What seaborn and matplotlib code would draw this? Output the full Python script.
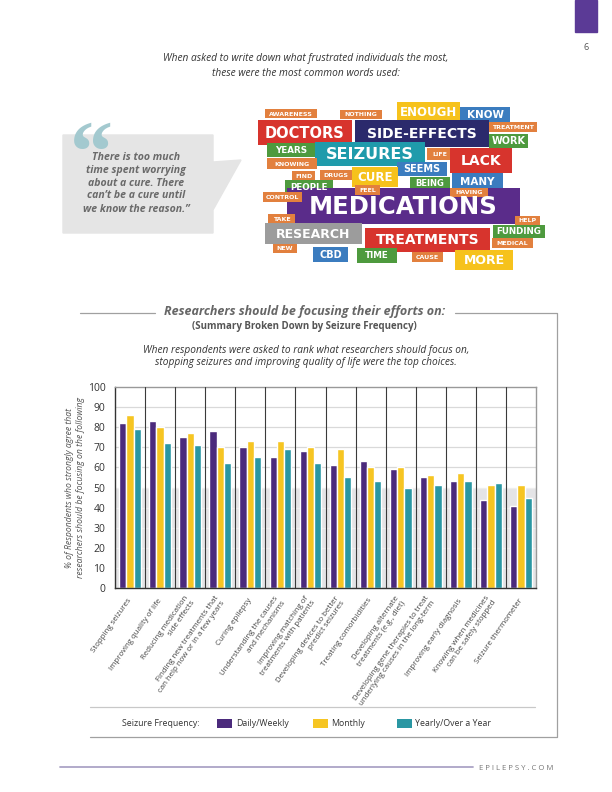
import numpy as np
import pandas as pd
import matplotlib
matplotlib.use("Agg")
import matplotlib.pyplot as plt
from matplotlib.patches import Rectangle, Polygon
import seaborn as sns

# chart data
focus = ["Stopping seizures", "Improving quality of life",
         "Reducing medication\nside effects",
         "Finding new treatments that\ncan help now or in a few years",
         "Curing epilepsy", "Understanding the causes\nand mechanisms",
         "Improving matching of\ntreatments with patients",
         "Developing devices to better\npredict seizures",
         "Treating comorbidities",
         "Developing alternate\ntreatments (e.g., diet)",
         "Developing gene therapies to treat\nunderlying causes in the long-term",
         "Improving early diagnosis",
         "Knowing when medicines\ncan be safely stopped",
         "Seizure thermometer"]
daily = [82, 83, 75, 78, 70, 65, 68, 61, 63, 59, 55, 53, 44, 41]
monthly = [86, 80, 77, 70, 73, 73, 70, 69, 60, 60, 56, 57, 51, 51]
yearly = [79, 72, 71, 62, 65, 69, 62, 55, 53, 50, 51, 53, 52, 45]
freq_names = ["Daily/Weekly", "Monthly", "Yearly/Over a Year"]
freq_colors = ["#4b2a7c", "#f6c522", "#2a97a3"]
yticks = list(range(0, 101, 10))

# word cloud: word, box (x0, y0, x1, y1) in page pixels, colour, font size
ORANGE, RED, NAVY, TEAL = "#e2803e", "#d7342d", "#2b2a6c", "#1f9bab"
BLUE, GREEN, YELLOW, PURPLE, GREY = "#3b7cbf", "#4e9a3e", "#f6c21c", "#5a2c8a", "#9c9c9c"
words = [
    ("AWARENESS", (265, 109, 317, 118), ORANGE, 4.5),
    ("NOTHING", (340, 110, 382, 119), ORANGE, 4.5),
    ("ENOUGH", (397, 102, 460, 121), YELLOW, 8.5),
    ("KNOW", (460, 107, 510, 123), BLUE, 7.5),
    ("TREATMENT", (489, 122, 537, 132), ORANGE, 4.5),
    ("DOCTORS", (258, 120, 352, 145), RED, 10.5),
    ("SIDE-EFFECTS", (355, 120, 489, 147), NAVY, 10),
    ("WORK", (489, 134, 528, 148), GREEN, 7),
    ("YEARS", (267, 143, 316, 157), GREEN, 6.3),
    ("SEIZURES", (315, 142, 425, 166), TEAL, 11.5),
    ("LIFE", (427, 148, 452, 160), ORANGE, 4.5),
    ("LACK", (450, 148, 512, 173), RED, 10),
    ("KNOWING", (267, 158, 317, 169), ORANGE, 4.5),
    ("SEEMS", (397, 162, 447, 176), BLUE, 7),
    ("FIND", (292, 171, 315, 181), ORANGE, 4.5),
    ("DRUGS", (320, 170, 352, 180), ORANGE, 4.5),
    ("CURE", (352, 167, 398, 187), YELLOW, 8.5),
    ("MANY", (452, 173, 503, 190), BLUE, 7.5),
    ("BEING", (410, 177, 450, 190), GREEN, 6),
    ("PEOPLE", (285, 180, 333, 195), GREEN, 6.3),
    ("MEDICATIONS", (287, 188, 520, 224), PURPLE, 17.5),
    ("FEEL", (355, 185, 380, 195), ORANGE, 4.5),
    ("HAVING", (450, 188, 488, 197), ORANGE, 4.5),
    ("CONTROL", (263, 192, 302, 202), ORANGE, 4.5),
    ("TAKE", (268, 214, 295, 224), ORANGE, 4.5),
    ("HELP", (515, 216, 540, 225), ORANGE, 4.5),
    ("RESEARCH", (265, 223, 362, 244), GREY, 9),
    ("TREATMENTS", (365, 228, 490, 252), RED, 10),
    ("FUNDING", (493, 225, 545, 238), GREEN, 6.3),
    ("MEDICAL", (492, 238, 533, 248), ORANGE, 4.5),
    ("NEW", (273, 244, 297, 253), ORANGE, 4.5),
    ("CBD", (313, 247, 348, 262), BLUE, 7),
    ("TIME", (357, 248, 397, 263), GREEN, 6.3),
    ("CAUSE", (412, 252, 443, 262), ORANGE, 4.5),
    ("MORE", (455, 250, 513, 270), YELLOW, 9),
]

sns.set_style("white")
plt.rcParams["font.family"] = ["Open Sans", "DejaVu Sans"]

fig = plt.figure(figsize=(6.12, 7.92), dpi=100)

# page overlay in pixel units
ov = fig.add_axes([0, 0, 1, 1], zorder=0)
ov.set_xlim(0, 612)
ov.set_ylim(792, 0)
ov.axis("off")

ov.add_patch(Rectangle((575, 0), 22, 32, color="#5b3a96"))
ov.text(586, 48, "6", ha="center", va="center", fontsize=6.5, color="#555")

ov.text(306, 59, "When asked to write down what frustrated individuals the most,",
        ha="center", va="center", fontsize=7.3, style="italic", color="#333")
ov.text(306, 73, "these were the most common words used:",
        ha="center", va="center", fontsize=7.3, style="italic", color="#333")

# quote bubble
ov.add_patch(Polygon([(63, 135), (213, 135), (213, 162), (241, 160), (213, 210),
                      (213, 233), (63, 233)], closed=True, color="#e5e5e5"))
ov.text(70, 121, "\u201c", fontsize=62, fontweight="bold", color="#a3c9cf",
        ha="left", va="top", family="Liberation Serif")
quote = ["There is too much", "time spent worrying", "about a cure. There",
         "can\u2019t be a cure until", "we know the reason.\u201d"]
for i, line in enumerate(quote):
    ov.text(136, 157 + i * 13, line, ha="center", va="center", fontsize=7.6,
            style="italic", fontweight="bold", color="#6a6a6a", zorder=3)

# word cloud
for w, (x0, y0, x1, y1), c, fs in words:
    ov.add_patch(Rectangle((x0, y0), x1 - x0, y1 - y0, color=c, lw=0))
    ov.text((x0 + x1) / 2, (y0 + y1) / 2 + 0.5, w, ha="center", va="center",
            fontsize=fs, fontweight="bold", color="white", family="DejaVu Sans")

# panel frame and headings
lc = "#a0a0a0"
ov.plot([80, 155], [313, 313], color=lc, lw=0.9)
ov.plot([455, 557, 557, 90], [313, 313, 737, 737], color=lc, lw=0.9)
ov.plot([90, 535], [707, 707], color="#c8c8c8", lw=0.9)
ov.text(305, 312, "Researchers should be focusing their efforts on:", ha="center",
        va="center", fontsize=9, style="italic", fontweight="bold", color="#666")
ov.text(304, 327, "(Summary Broken Down by Seizure Frequency)", ha="center",
        va="center", fontsize=7, fontweight="bold", color="#555")
ov.text(306, 350, "When respondents were asked to rank what researchers should focus on,",
        ha="center", va="center", fontsize=7.3, style="italic", color="#333")
ov.text(306, 363, "stopping seizures and improving quality of life were the top choices.",
        ha="center", va="center", fontsize=7.3, style="italic", color="#333")

# legend
ov.text(122, 723, "Seizure Frequency:", ha="left", va="center", fontsize=6.3, color="#333")
for (bx, tx), name, col in zip([(217, 236), (313, 331), (397, 415)], freq_names, freq_colors):
    ov.add_patch(Rectangle((bx, 719), 15, 8.5, color=col, lw=0))
    ov.text(tx, 723, name, ha="left", va="center", fontsize=6.3, color="#333")

# footer
ov.plot([60, 473], [767, 767], color="#aba4c6", lw=1.3)
ov.text(516, 768, "E P I L E P S Y . C O M", ha="center", va="center",
        fontsize=5.6, color="#777")

# bar chart
L, R, T, B = 115, 536, 387, 588
ax = fig.add_axes([L / 612, 1 - B / 792, (R - L) / 612, (B - T) / 792], zorder=1)
ax.patch.set_alpha(0)

df = pd.DataFrame({"Focus": focus, freq_names[0]: daily,
                   freq_names[1]: monthly, freq_names[2]: yearly})
long = df.melt(id_vars="Focus", var_name="Frequency", value_name="Percent")

ax.axhspan(0, 50, color="#e4e4e6", zorder=0, lw=0)
for yv in yticks[1:-1]:
    ax.axhline(yv, color="#d9d9d9" if yv > 50 else "#eeeeee", lw=0.9, zorder=0.5)

sns.barplot(data=long, x="Focus", y="Percent", hue="Frequency",
            palette=freq_colors, saturation=1, width=0.72, gap=0,
            legend=False, ax=ax, zorder=2)

for xv in np.arange(0.5, len(focus) - 0.5, 1):
    ax.axvline(xv, color="#3a3a3a", lw=0.8, zorder=3)

ax.set_xlim(-0.5, len(focus) - 0.5)
ax.set_ylim(0, 100)
ax.set_yticks(yticks)
ax.set_yticklabels([str(v) for v in yticks], fontsize=7.5, color="#333")
ax.set_xticks(range(len(focus)))
ax.set_xticklabels(focus, rotation=55, ha="right", va="center",
                   rotation_mode="anchor", fontsize=5.7, color="#444",
                   multialignment="right")
ax.tick_params(axis="both", length=0)
ax.tick_params(axis="y", pad=7)
ax.tick_params(axis="x", pad=8)
ax.set_xlabel("")
ax.set_ylabel("% of Respondents who strongly agree that\nresearchers should be focusing on the following",
              fontsize=6.2, style="italic", color="#555", labelpad=2, linespacing=1.2)
for side in ["left", "bottom"]:
    ax.spines[side].set_color("#333")
    ax.spines[side].set_linewidth(1)
for side in ["top", "right"]:
    ax.spines[side].set_color("#999")
    ax.spines[side].set_linewidth(1)

plt.savefig("out.png", dpi=100)
